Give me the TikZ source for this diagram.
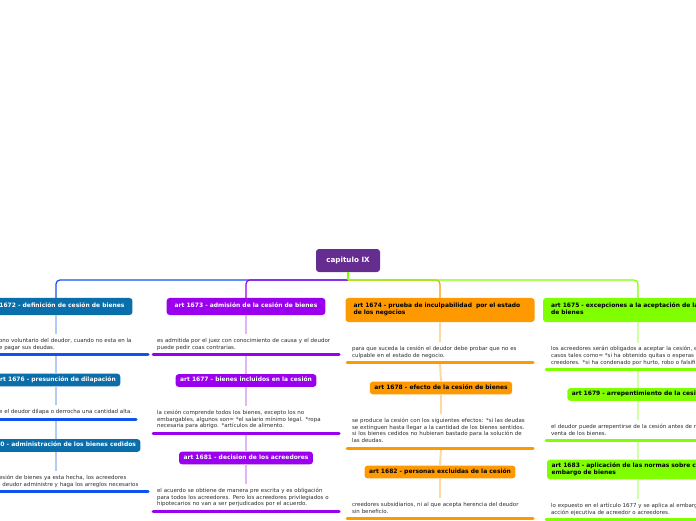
\documentclass[tikz,border=0pt]{standalone}
\usepackage{fontspec}
\setmainfont{DejaVu Sans}

\definecolor{rootpurple}{RGB}{102,45,145}
\definecolor{cblue}{RGB}{10,110,170}
\definecolor{cbluebar}{RGB}{16,82,240}
\definecolor{cbluelite}{RGB}{178,202,246}
\definecolor{cpurple}{RGB}{155,0,238}
\definecolor{cpurplelite}{RGB}{226,182,246}
\definecolor{corange}{RGB}{255,153,0}
\definecolor{corangelite}{RGB}{255,216,160}
\definecolor{cgreen}{RGB}{128,255,0}
\definecolor{cgreenlite}{RGB}{208,255,165}
\definecolor{bodytext}{RGB}{45,45,45}

\tikzset{
  rootbox/.style={fill=rootpurple, text=white, rounded corners=3mm, minimum width=64mm,
    minimum height=23mm, inner sep=0pt, font=\fontsize{20.5}{24}\selectfont\bfseries},
  topic/.style={rounded corners=3mm, inner xsep=8mm, inner ysep=5mm,
    font=\fontsize{17}{20}\selectfont\bfseries,
    execute at begin node=\strut, execute at end node=\strut},
  subtopic/.style={topic, inner xsep=4.5mm, inner ysep=2.8mm},
  leaf/.style={anchor=north west, align=left, inner xsep=5mm, inner ysep=3.5mm,
    text width=176mm, text=bodytext, font=\fontsize{15.6}{19}\selectfont,
    execute at begin node=\strut, execute at end node=\strut},
  trunk/.style={line width=1.2mm, rounded corners=4mm},
  link/.style={line width=2mm},
  bar/.style={line width=2.8mm, line cap=round},
}

\begin{document}
\begin{tikzpicture}[x=1mm, y=-1mm]
  \useasboundingbox (0,0) rectangle (696,520);
  \fill[white] (0,0) rectangle (696,520);
  \clip (0,0) rectangle (696,520);

  % centre
  \node[rootbox] (cap) at (348,260.5) {capitulo IX};
  \coordinate (fork) at (348,280);

  % blue column
  \node[topic, fill=cblue, text=white] (bh1) at (56,306.5) {art 1672 - definición de cesión de bienes};
  \node[leaf, inner xsep=3mm, text width=146mm] (bb1) at (-4,334.3) {ono voluntario del deudor, cuando no esta en la\\e pagar sus deudas.};
  \node[subtopic, fill=cblue, text=white] (bh2) at (56,380) {art 1676 - presunción de dilapación};
  \node[leaf, inner xsep=3mm, text width=134mm] (bb2) at (-4,405.3) {e el deudor dilapa o derrocha una cantidad alta.};
  \node[subtopic, fill=cblue, text=white] (bh3) at (56,445.5) {art 1680 - administración de los bienes cedidos};
  \node[leaf, inner xsep=3mm, text width=146mm] (bb3) at (-4,471.3) {esión de bienes ya esta hecha, los acreedores\\l deudor administre y haga los arreglos necesarios};

  % purple column
  \node[topic, fill=cpurple, text=white] (ph1) at (246,306.5) {art 1673 - admisión de la cesión de bienes};
  \node[leaf, inner xsep=4mm, text width=178mm] (pb1) at (153,334.3) {es admitida por el juez con conocimiento de causa y el deudor\\puede pedir coas contrarias.};
  \node[subtopic, fill=cpurple, text=white] (ph2) at (246,380.5) {art 1677 - bienes incluidos en la cesión};
  \node[leaf, inner xsep=4mm, text width=178mm] (pb2) at (153,406.3) {la cesión comprende todos los bienes, excepto los no\\embargables, algunos son= *el salario mínimo legal. *ropa\\necesaria para abrigo. *artículos de alimento.};
  \node[subtopic, fill=cpurple, text=white] (ph3) at (246,458) {art 1681 - decision de los acreedores};
  \node[leaf, inner xsep=4mm, text width=178mm] (pb3) at (153,484.3) {el acuerdo se obtiene de manera pre escrita y es obligación\\para todos los acreedores. Pero los acreedores privilegiados o\\hipotecarios no van a ser perjudicados por el acuerdo.};

  % orange column
  \node[topic, fill=corange, text=black, align=left, text width=173mm] (oh1) at (440,310) {art 1674 - prueba de inculpabilidad~ por el estado\\de los negocios};
  \node[leaf] (ob1) at (347,342.3) {para que suceda la cesión el deudor debe probar que no es\\culpable en el estado de negocio.};
  \node[subtopic, fill=corange, text=black] (oh2) at (441,388) {art 1678 - efecto de la cesión de bienes};
  \node[leaf] (ob2) at (347,414.3) {se produce la cesión con los siguientes efectos: *si las deudas\\se extinguen hasta llegar a la cantidad de los bienes sentidos.\\*si los bienes cedidos no hubieran bastado para la solución de\\las deudas.};
  \node[subtopic, fill=corange, text=black] (oh3) at (440,472) {art 1682 - personas excluidas de la cesión};
  \node[leaf] (ob3) at (347,498.3) {creedores subsidiarios, ni al que acepta herencia del deudor\\sin beneficio.};

  % green column
  \node[topic, fill=cgreen, text=black, align=left, text width=174mm] (gh1) at (638,310) {art 1675 - excepciones a la aceptación de la cesión\\de bienes};
  \node[leaf] (gb1) at (546,342.6) {los acreedores serán obligados a aceptar la cesión, e\\casos tales como= *si ha obtenido quitas o esperas\\creedores. *si ha condenado por hurto, robo o falsifi};
  \node[subtopic, fill=cgreen, text=black] (gh2) at (638,394.5) {art 1679 - arrepentimiento de la cesión};
  \node[leaf] (gb2) at (546,420.3) {el deudor puede arrepentirse de la cesión antes de r\\venta de los bienes.};
  \node[subtopic, fill=cgreen, text=black, align=left, text width=173mm] (gh3) at (638,469.5) {art 1683 - aplicación de las normas sobre cesión\\embargo de bienes};
  \node[leaf] (gb3) at (546,499.3) {lo expuesto en el artículo 1677 y se aplica al embarg\\acción ejecutiva de acreedor o acreedores.};

  % trunk lines from the centre
  \draw[trunk, cbluebar] (fork) -| (bh1.north);
  \draw[trunk, cpurple] (fork) -| (ph1.north);
  \draw[trunk, corange] (fork) -| (oh1.north);
  \draw[trunk, cgreen] (fork) -| (gh1.north);
  \draw[trunk, cgreen] (cap.south) -- (fork);

  % links down each column
  \draw[link, cbluelite] (bh1.south) -- (bh1.south |- bb1.north);
  \draw[link, cbluelite] (bh1.south |- bb1.south) -- (bh2.north);
  \draw[link, cbluelite] (bh2.south) -- (bh2.south |- bb2.north);
  \draw[link, cbluelite] (bh2.south |- bb2.south) -- (bh3.north);
  \draw[link, cbluelite] (bh3.south) -- (bh3.south |- bb3.north);
  \draw[link, cpurplelite] (ph1.south) -- (ph1.south |- pb1.north);
  \draw[link, cpurplelite] (ph1.south |- pb1.south) -- (ph2.north);
  \draw[link, cpurplelite] (ph2.south) -- (ph2.south |- pb2.north);
  \draw[link, cpurplelite] (ph2.south |- pb2.south) -- (ph3.north);
  \draw[link, cpurplelite] (ph3.south) -- (ph3.south |- pb3.north);
  \draw[link, corangelite] (oh1.south) -- (oh1.south |- ob1.north);
  \draw[link, corangelite] (oh1.south |- ob1.south) -- (oh2.north);
  \draw[link, corangelite] (oh2.south) -- (oh2.south |- ob2.north);
  \draw[link, corangelite] (oh2.south |- ob2.south) -- (oh3.north);
  \draw[link, corangelite] (oh3.south) -- (oh3.south |- ob3.north);
  \draw[link, cgreenlite] (gh1.south) -- (gh1.south |- gb1.north);
  \draw[link, cgreenlite] (gh1.south |- gb1.south) -- (gh2.north);
  \draw[link, cgreenlite] (gh2.south) -- (gh2.south |- gb2.north);
  \draw[link, cgreenlite] (gh2.south |- gb2.south) -- (gh3.north);
  \draw[link, cgreenlite] (gh3.south) -- (gh3.south |- gb3.north);

  % bars under the texts
  \draw[bar, cbluebar] (bb1.south west) -- (bb1.south east);
  \draw[bar, cbluebar] (bb2.south west) -- (bb2.south east);
  \draw[bar, cbluebar] (bb3.south west) -- (bb3.south east);
  \draw[bar, cpurple] (pb1.south west) -- (pb1.south east);
  \draw[bar, cpurple] (pb2.south west) -- (pb2.south east);
  \draw[bar, cpurple] (pb3.south west) -- (pb3.south east);
  \draw[bar, corange] (ob1.south west) -- (ob1.south east);
  \draw[bar, corange] (ob2.south west) -- (ob2.south east);
  \draw[bar, corange] (ob3.south west) -- (ob3.south east);
  \draw[bar, cgreen] (gb1.south west) -- (gb1.south east);
  \draw[bar, cgreen] (gb2.south west) -- (gb2.south east);
  \draw[bar, cgreen] (gb3.south west) -- (gb3.south east);
\end{tikzpicture}
\end{document}
